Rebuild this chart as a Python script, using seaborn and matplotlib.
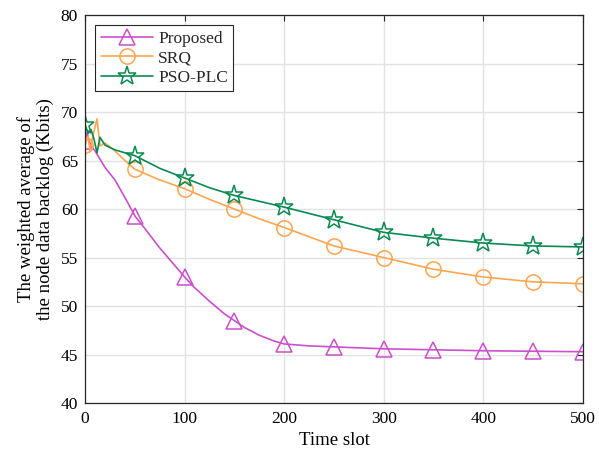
import numpy as np
import pandas as pd
import seaborn as sns
import matplotlib.pyplot as plt

# Values (time slot -> weighted backlog, Kbits)
prop_x = [0, 2, 5, 10, 20, 30, 40, 50, 60, 75, 90, 100, 110, 125, 140, 150,
          160, 175, 190, 200, 225, 250, 300, 350, 400, 450, 500]
prop_y = [67.0, 67.9, 66.6, 66.0, 64.3, 63.0, 61.2, 59.3, 58.0, 56.0, 54.2, 53.0,
          51.9, 50.5, 49.2, 48.5, 47.8, 47.0, 46.4, 46.1, 45.9, 45.8, 45.6, 45.5,
          45.4, 45.35, 45.3]

srq_x = [0, 3, 5, 8, 12, 15, 20, 30, 40, 50, 75, 100, 125, 150, 175, 200,
         250, 300, 350, 400, 450, 500]
srq_y = [66.6, 67.5, 66.0, 67.6, 69.3, 66.5, 66.8, 66.0, 65.0, 64.1, 63.0, 62.1,
         61.0, 60.0, 59.0, 58.1, 56.2, 55.0, 53.8, 53.0, 52.5, 52.3]

pso_x = [0, 3, 6, 9, 12, 15, 20, 30, 40, 50, 75, 100, 125, 150, 175, 200,
         250, 300, 350, 400, 450, 500]
pso_y = [68.7, 67.8, 68.2, 67.2, 65.8, 67.4, 66.6, 66.1, 65.8, 65.5, 64.2, 63.2,
         62.2, 61.4, 60.8, 60.2, 58.9, 57.6, 57.0, 56.5, 56.2, 56.1]

series = [
    ("Proposed", prop_x, prop_y, "#cc4fcc", "^"),
    ("SRQ", srq_x, srq_y, "#ffa54f", "o"),
    ("PSO-PLC", pso_x, pso_y, "#0a8a50", "*"),
]

sns.set_style("whitegrid")
plt.rcParams["font.family"] = ["Liberation Serif", "DejaVu Serif"]

fig = plt.figure(figsize=(5.99, 4.54), dpi=100)
ax = fig.add_axes([0.142, 0.112, 0.831, 0.855])

for name, xs, ys, color, mk in series:
    df = pd.DataFrame({"slot": xs, "backlog": ys})
    marks = [i for i, v in enumerate(xs) if v % 50 == 0]
    sns.lineplot(data=df, x="slot", y="backlog", ax=ax, color=color, lw=1.2,
                 marker=mk, markevery=marks, markersize=14 if mk == "*" else 11,
                 markerfacecolor="none", markeredgecolor=color,
                 markeredgewidth=1.1, label=name)

ax.set_xlim(0, 500)
ax.set_ylim(40, 80)
ax.set_xticks(range(0, 501, 100))
ax.set_yticks(range(40, 81, 5))
ax.grid(True, color="#e3e3e3", lw=1.0)
for s in ax.spines.values():
    s.set_visible(True)
    s.set_color("#262626")
    s.set_linewidth(0.9)
ax.tick_params(direction="in", length=4, width=0.8, colors="#262626",
               labelsize=12.5, top=True, right=True, labelcolor="black", pad=5)
ax.tick_params(axis="x", pad=6)
ax.set_xlabel("Time slot", fontsize=13.5, color="black", labelpad=3)
ax.set_ylabel("The weighted average of\nthe node data backlog (Kbits)",
              fontsize=13.5, color="black", labelpad=5, linespacing=1.1)

leg = ax.legend(loc="upper left", fontsize=12.5, frameon=True, fancybox=False,
                edgecolor="#262626", framealpha=1, borderpad=0.3,
                handlelength=3.0, handletextpad=0.3, labelspacing=0.2,
                borderaxespad=0.6)
leg.get_frame().set_linewidth(0.8)

fig.savefig("out.png", dpi=100)
